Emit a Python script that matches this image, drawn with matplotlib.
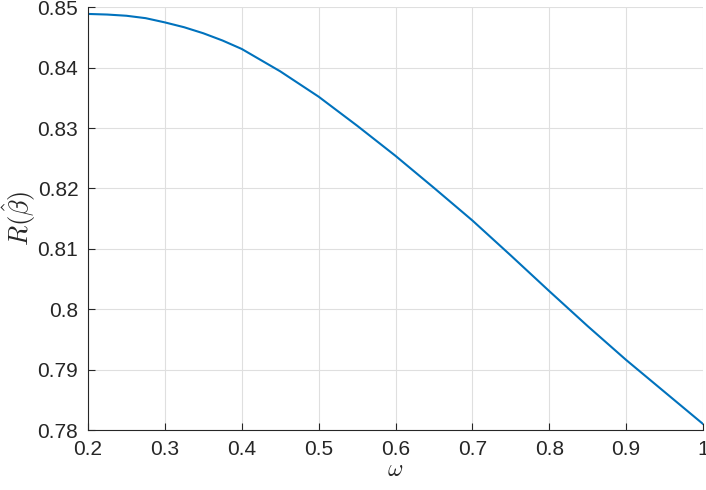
import matplotlib
matplotlib.use("Agg")
import matplotlib.pyplot as plt

omega = [0.2, 0.225, 0.25, 0.275, 0.3, 0.325, 0.35, 0.375, 0.4, 0.45, 0.5, 0.55, 0.6, 0.65, 0.7,
         0.75, 0.8, 0.85, 0.9, 0.95, 1.0]
risk = [0.8489, 0.8488, 0.8486, 0.8482, 0.8475, 0.8467, 0.8457, 0.8445, 0.8431, 0.8394, 0.8352,
        0.8304, 0.8254, 0.8201, 0.8147, 0.8089, 0.8030, 0.7972, 0.7916, 0.7863, 0.7810]

xticks = [0.2, 0.3, 0.4, 0.5, 0.6, 0.7, 0.8, 0.9, 1.0]
xticklabels = ["0.2", "0.3", "0.4", "0.5", "0.6", "0.7", "0.8", "0.9", "1"]
yticks = [0.78, 0.79, 0.80, 0.81, 0.82, 0.83, 0.84, 0.85]
yticklabels = ["0.78", "0.79", "0.8", "0.81", "0.82", "0.83", "0.84", "0.85"]

plt.rcParams['font.family'] = ['Liberation Sans', 'DejaVu Sans']
plt.rcParams['mathtext.fontset'] = 'cm'

fig = plt.figure(figsize=(7.06, 4.90), dpi=100)
ax = fig.add_axes([88/706, 60/490, 615/706, 422.7/490])
ax.plot(omega, risk, color='#0072BD', lw=1.5)
ax.set_xlim(0.2, 1.0)
ax.set_ylim(0.78, 0.85)
ax.set_xticks(xticks)
ax.set_xticklabels(xticklabels)
ax.set_yticks(yticks)
ax.set_yticklabels(yticklabels)
ax.grid(True, color='#dfdfdf', lw=0.8)
ax.set_axisbelow(True)
for s in ['top', 'right']:
    ax.spines[s].set_visible(False)
for s in ['left', 'bottom']:
    ax.spines[s].set_color('#262626')
    ax.spines[s].set_linewidth(0.8)
ax.tick_params(direction='in', length=5, width=0.8, colors='#262626', labelsize=15, pad=7)
ax.set_xlabel(r'$\omega$', fontsize=17, color='#262626', labelpad=0)
ax.set_ylabel(r'$R(\hat{\beta})$', fontsize=19, color='#262626', labelpad=0)

fig.savefig('out.png', dpi=100)
